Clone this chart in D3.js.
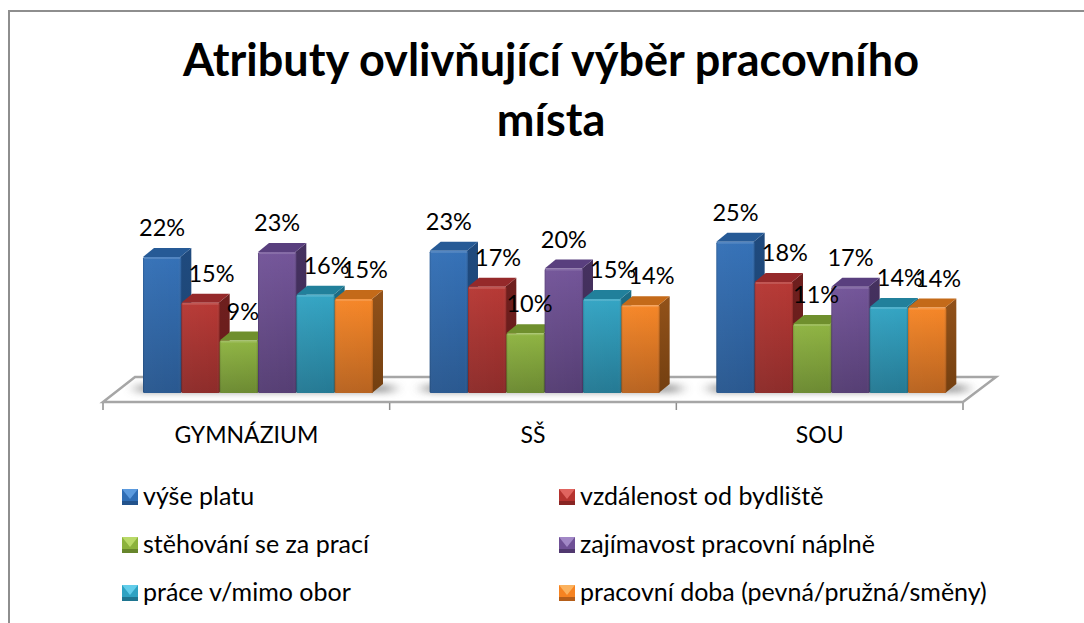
<!DOCTYPE html>
<html>
<head>
<meta charset="utf-8">
<script src="https://cdn.jsdelivr.net/npm/d3@7"></script>
<style>
  html, body { margin: 0; padding: 0; background: #fff; overflow: hidden; }
  text { font-family: Lato, "Noto Sans", sans-serif; fill: #000; }
</style>
</head>
<body>
<div id="chart"></div>
<script>
const titleLines = ["Atributy ovlivňující výběr pracovního", "místa"];
const categories = ["GYMNÁZIUM", "SŠ", "SOU"];
const seriesNames = ["výše platu", "vzdálenost od bydliště", "stěhování se za prací",
  "zajímavost pracovní náplně", "práce v/mimo obor", "pracovní doba (pevná/pružná/směny)"];

// per category
const vysePlatu = [22.3, 23.3, 24.8];
const vzdalenost = [14.8, 17.4, 18.2];
const stehovani = [8.6, 9.8, 11.3];
const zajimavost = [23.1, 20.4, 17.4];
const praceObor = [16.1, 15.4, 14.1];
const pracovniDoba = [15.4, 14.4, 14.0];
const seriesValues = [vysePlatu, vzdalenost, stehovani, zajimavost, praceObor, pracovniDoba];

// front top, front bottom, top face, side top, side bottom, legend light
const colors = [
  ["#2f6db5", "#23538c", "#265a96", "#1f4a7e", "#1d4572", "#5b9ade"],
  ["#b5332f", "#892523", "#95292a", "#6f1f1e", "#661c1b", "#e0645f"],
  ["#8cb23d", "#67862b", "#6f8f2d", "#5d7a26", "#557022", "#b9d968"],
  ["#6f5096", "#50386f", "#593f7e", "#45315f", "#3e2c56", "#a187c6"],
  ["#2ea2c2", "#1e7590", "#21809b", "#1c6c84", "#1a627a", "#62cdea"],
  ["#f68321", "#b55e19", "#c46a19", "#92521a", "#733f10", "#fbb25e"]
];

const width = 1084, height = 623;
const baseY = 393, depthX = 11, depthY = 9;

const svg = d3.select("#chart").append("svg")
  .attr("width", width)
  .attr("height", height);

const defs = svg.append("defs");
colors.forEach((c, i) => {
  const front = defs.append("linearGradient").attr("id", "front" + i)
    .attr("x1", 0).attr("y1", 0).attr("x2", 0).attr("y2", 1);
  front.append("stop").attr("offset", 0).attr("stop-color", c[0]);
  front.append("stop").attr("offset", 1).attr("stop-color", c[1]);
  const side = defs.append("linearGradient").attr("id", "side" + i)
    .attr("x1", 0).attr("y1", 0).attr("x2", 0).attr("y2", 1);
  side.append("stop").attr("offset", 0).attr("stop-color", c[3]);
  side.append("stop").attr("offset", 1).attr("stop-color", c[4]);
});
// bevel on the left and right edge of the front face
const bevel = defs.append("linearGradient").attr("id", "bevel");
bevel.append("stop").attr("offset", 0).attr("stop-color", "#000").attr("stop-opacity", 0.16);
bevel.append("stop").attr("offset", 0.06).attr("stop-color", "#fff").attr("stop-opacity", 0.05);
bevel.append("stop").attr("offset", 0.92).attr("stop-color", "#fff").attr("stop-opacity", 0.03);
bevel.append("stop").attr("offset", 1).attr("stop-color", "#000").attr("stop-opacity", 0.18);
defs.append("filter").attr("id", "soft")
  .attr("x", "-20%").attr("y", "-100%").attr("width", "140%").attr("height", "300%")
  .append("feGaussianBlur").attr("stdDeviation", "7 3");

// chart frame, only the top and left edge are in the picture
svg.append("path")
  .attr("d", d3.line()([[9, height], [9, 11], [width, 11]]))
  .attr("fill", "none")
  .attr("stroke", "#8e8e8e")
  .attr("stroke-width", 2);

svg.append("g").selectAll("text")
  .data(titleLines)
  .join("text")
  .attr("x", 551)
  .attr("y", (d, i) => 76 + i * 60)
  .attr("text-anchor", "middle")
  .attr("font-size", 45)
  .attr("font-weight", 700)
  .text(d => d);

const x0 = d3.scaleBand().domain(categories).range([103, 963]);
const x1 = d3.scaleBand().domain(d3.range(seriesNames.length)).range([40, 270]);
const y = d3.scaleLinear().domain([0, 30]).range([baseY, baseY - 183]);

// floor
svg.append("polygon")
  .attr("points", [[103, 402], [963, 402], [996, 377], [135, 377]].join(" "))
  .attr("fill", "#fff")
  .attr("stroke", "#a6a6a6")
  .attr("stroke-width", 2.5);

// shadows on the floor
svg.append("g").selectAll("rect")
  .data(categories)
  .join("rect")
  .attr("x", d => x0(d) + x1(0) - 6)
  .attr("y", 384)
  .attr("width", x1.step() * 6 + 26)
  .attr("height", 9)
  .attr("fill", "#8c8c8c")
  .attr("opacity", 0.75)
  .attr("filter", "url(#soft)");

// ticks between the categories
svg.append("g").selectAll("line")
  .data([...categories.map(d => x0(d)), x0.range()[1]])
  .join("line")
  .attr("x1", d => d).attr("x2", d => d)
  .attr("y1", 403).attr("y2", 410)
  .attr("stroke", "#8e8e8e")
  .attr("stroke-width", 1.5);

const axis = svg.append("g")
  .attr("transform", "translate(0,410)")
  .call(d3.axisBottom(x0).tickSize(0).tickPadding(17));
axis.select(".domain").remove();
axis.selectAll("text").attr("font-size", 23).attr("font-family", "Lato").attr("fill", "#000");

const bars = categories.flatMap((cat, c) => seriesNames.map((name, s) => ({
  cat, s, value: seriesValues[s][c],
  prev: s > 0 ? seriesValues[s - 1][c] : null
})));

const bar = svg.append("g").selectAll("g")
  .data(bars)
  .join("g")
  .attr("transform", d => `translate(${x0(d.cat) + x1(d.s)},0)`);

const w = x1.bandwidth();

bar.append("polygon")
  .attr("points", d => [[w - 1, y(d.value)], [w + depthX - 1, y(d.value) - depthY],
    [w + depthX - 1, baseY - depthY], [w - 1, baseY]].join(" "))
  .attr("fill", d => `url(#side${d.s})`);

bar.append("polygon")
  .attr("points", d => [[0, y(d.value)], [depthX, y(d.value) - depthY],
    [w + depthX - 1, y(d.value) - depthY], [w - 1, y(d.value)]].join(" "))
  .attr("fill", d => colors[d.s][2]);

bar.append("rect")
  .attr("x", 0)
  .attr("y", d => y(d.value))
  .attr("width", w)
  .attr("height", d => baseY - y(d.value))
  .attr("rx", 1.5)
  .attr("fill", d => `url(#front${d.s})`);

bar.append("rect")
  .attr("x", 0)
  .attr("y", d => y(d.value))
  .attr("width", w)
  .attr("height", d => baseY - y(d.value))
  .attr("rx", 1.5)
  .attr("fill", "url(#bevel)");

// thin highlight along the top edge of the front face
bar.append("rect")
  .attr("x", 1)
  .attr("y", d => y(d.value))
  .attr("width", w - 2)
  .attr("height", 2)
  .attr("fill", "#fff")
  .attr("opacity", 0.14);

// labels go on top of all bars, shorter bars push theirs to the right
svg.append("g").selectAll("text")
  .data(bars)
  .join("text")
  .attr("x", d => {
    const shift = d.prev !== null && d.value < d.prev ? (d.s === 2 ? 4 : 11) : 0;
    return x0(d.cat) + x1(d.s) + w / 2 + shift;
  })
  .attr("y", d => y(d.value) - 21)
  .attr("text-anchor", "middle")
  .attr("font-size", 23.5)
  .text(d => Math.round(d.value) + "%");

// legend
const rowY = d3.scalePoint().domain([0, 1, 2]).range([497, 593]);
const colX = d3.scalePoint().domain([0, 1]).range([122, 559]);
const markerSize = 16;

const item = svg.append("g").selectAll("g")
  .data(seriesNames)
  .join("g")
  .attr("transform", (d, i) => `translate(${colX(i % 2)},${rowY(Math.floor(i / 2))})`);

const m = markerSize / 2;
item.append("rect")
  .attr("x", 0).attr("y", -m)
  .attr("width", markerSize).attr("height", markerSize)
  .attr("fill", (d, i) => colors[i][0]);
item.append("polygon")
  .attr("points", [[0, -m], [markerSize, -m], [m, 2]].join(" "))
  .attr("fill", (d, i) => colors[i][5]);
item.append("rect")
  .attr("x", 0).attr("y", m - 4)
  .attr("width", markerSize).attr("height", 4)
  .attr("fill", (d, i) => colors[i][1]);
item.append("text")
  .attr("x", markerSize + 5)
  .attr("y", 8)
  .attr("font-size", 25)
  .text(d => d);
</script>
</body>
</html>
